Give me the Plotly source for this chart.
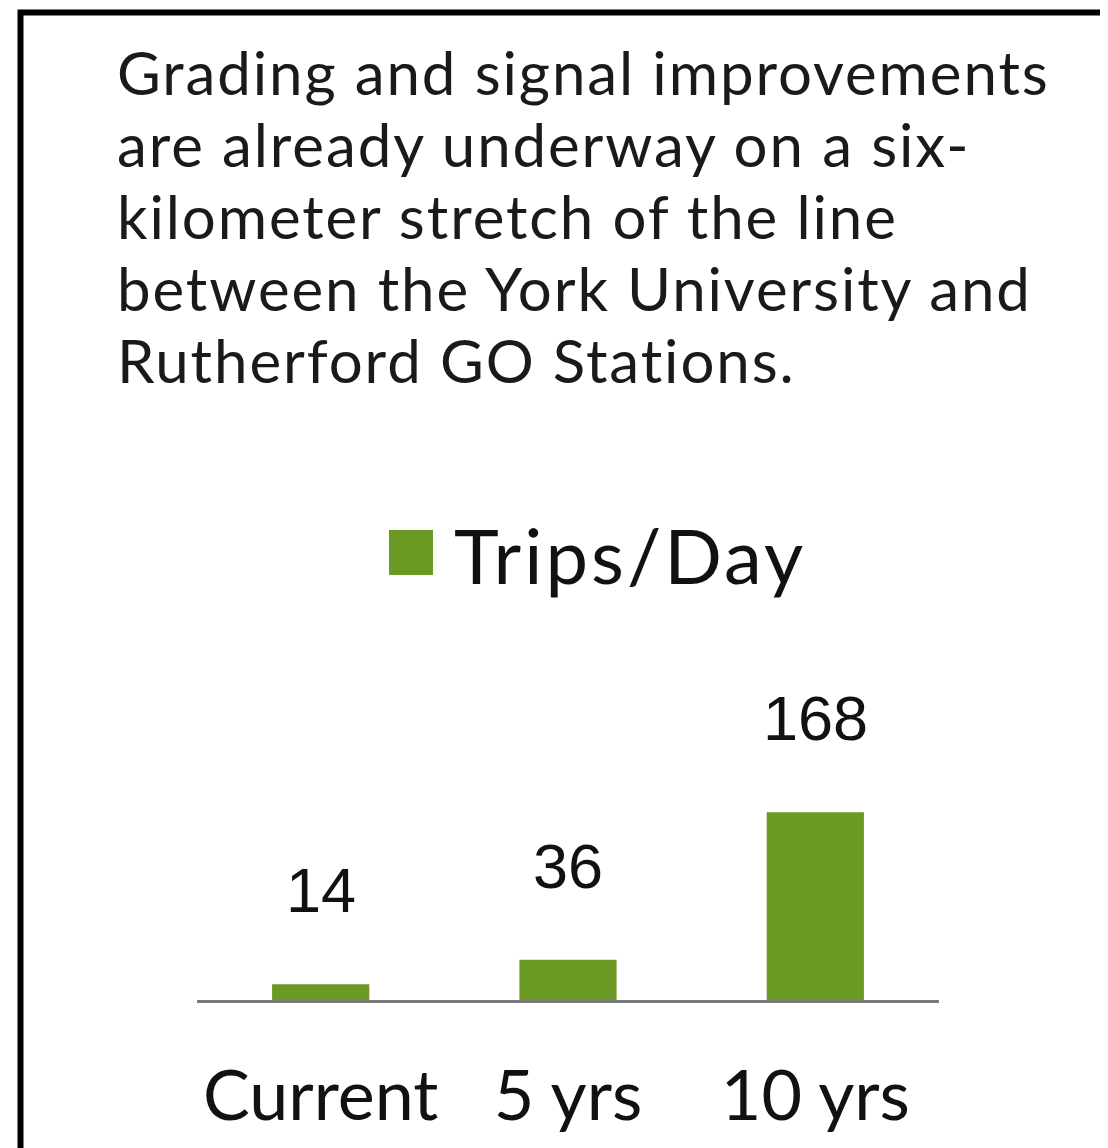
import plotly.graph_objects as go

# ---- data ----
categories = ["Current", "5 yrs", "10 yrs"]
trips_per_day = [14, 36, 168]
series_name = "Trips/Day"
caption_lines = [
    "Grading and signal improvements",
    "are already underway on a six-",
    "kilometer stretch of the line",
    "between the York University and",
    "Rutherford GO Stations.",
]

W, H = 1108, 1148
OFF = 8  # page body margin in the browser
GREEN = "#6A9A23"
TEXT_FONT = "Lato, 'Noto Sans', sans-serif"
NUM_FONT = "Arial, 'Liberation Sans', sans-serif"


def px(x):
    return (x - OFF) / W


def py(y):
    return 1 - (y - OFF) / H


def spaced(t, ls):
    return f'<span style="letter-spacing:{ls}px">{t}</span>'


fig = go.Figure()
fig.add_trace(
    go.Bar(
        x=categories,
        y=trips_per_day,
        name=series_name,
        marker=dict(color=GREEN, line=dict(width=0)),
        showlegend=False,
        hoverinfo="x+y",
    )
)

annotations = []
# value labels above bars
for c, v in zip(categories, trips_per_day):
    annotations.append(
        dict(
            x=c, y=v, xref="x", yref="y", text=str(v), showarrow=False,
            yanchor="middle", yshift=94,
            font=dict(family=NUM_FONT, size=63, color="#111111"),
        )
    )

# caption text lines
for i, line in enumerate(caption_lines):
    annotations.append(
        dict(
            x=px(115), y=py(72 + 72 * i), xref="paper", yref="paper",
            text=spaced(line, 1.9), showarrow=False, xanchor="left",
            yanchor="middle", align="left",
            font=dict(family=TEXT_FONT, size=60, color="#1a1a1a"),
        )
    )

# legend text
annotations.append(
    dict(
        x=px(452), y=py(554), xref="paper", yref="paper",
        text=spaced(series_name, 3), showarrow=False, xanchor="left",
        yanchor="middle",
        font=dict(family=TEXT_FONT, size=76, color="#111111"),
    )
)

shapes = [
    # frame border (extends beyond right/bottom edges)
    dict(type="rect", xref="paper", yref="paper",
         x0=px(20.5), x1=1.2, y0=-0.2, y1=py(12.5),
         line=dict(color="black", width=6), fillcolor="rgba(0,0,0,0)"),
    # legend swatch
    dict(type="rect", xref="paper", yref="paper",
         x0=px(389), x1=px(433), y0=py(575), y1=py(530),
         line=dict(width=0), fillcolor=GREEN),
]

fig.update_layout(
    width=W, height=H,
    margin=dict(l=0, r=0, t=0, b=0),
    paper_bgcolor="white", plot_bgcolor="white",
    bargap=0.607,
    showlegend=False,
    annotations=annotations,
    shapes=shapes,
    xaxis=dict(
        domain=[px(197), px(939)],
        type="category",
        showline=True, linecolor="#7a7a7a", linewidth=3,
        showgrid=False, zeroline=False, ticks="",
        tickfont=dict(family=TEXT_FONT, size=70, color="#111111"),
        ticklabelstandoff=33,
    ),
    yaxis=dict(
        domain=[py(1000), py(620)],
        range=[0, 340],
        showgrid=False, zeroline=False, showticklabels=False, showline=False,
    ),
)

fig.write_html("out.html")
